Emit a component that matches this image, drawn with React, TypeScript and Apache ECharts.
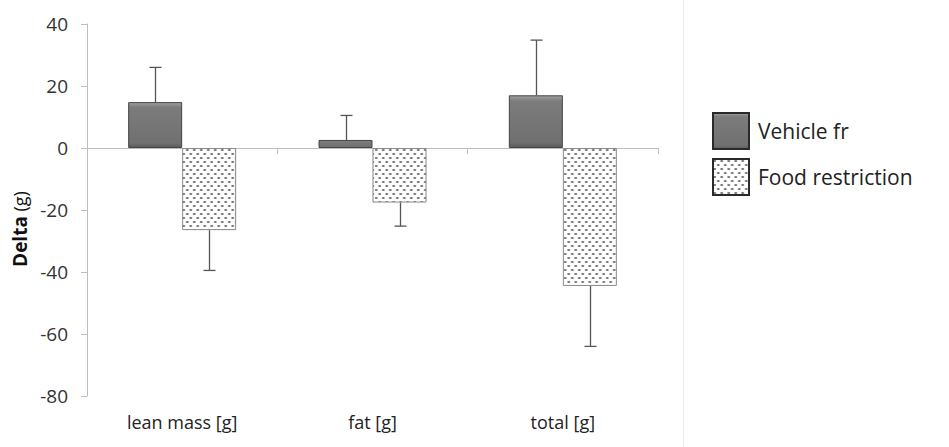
import React, { useEffect, useRef } from "react";
import * as echarts from "echarts";

const categories = ["lean mass [g]", "fat [g]", "total [g]"];
const vehicleValues = [14.8, 2.6, 17];
const vehicleErrors = [11.2, 7.9, 17.8];
const foodValues = [-26.5, -17.6, -44.5];
const foodErrors = [13, 7.6, 19.5];
const seriesNames = ["Vehicle fr", "Food restriction"];
const yTicks = { min: -80, max: 40, interval: 20 };

const FONT = "'Open Sans', 'Liberation Sans', sans-serif";

function makePattern(): HTMLCanvasElement {
  const c = document.createElement("canvas");
  c.width = 7;
  c.height = 8;
  const ctx = c.getContext("2d")!;
  ctx.fillStyle = "#ffffff";
  ctx.fillRect(0, 0, 7, 8);
  ctx.fillStyle = "#767676";
  const dots = [
    [1.75, 2],
    [5.25, 6],
  ];
  dots.forEach(([x, y]) => {
    ctx.beginPath();
    ctx.ellipse(x, y, 1.6, 0.9, 0, 0, Math.PI * 2);
    ctx.fill();
  });
  return c;
}

export default function App() {
  const ref = useRef<HTMLDivElement>(null);
  useEffect(() => {
    document.body.style.margin = "0";
    if (!ref.current) return;
    const chart = echarts.init(ref.current, null, { renderer: "svg" });
    const pattern = makePattern();
    const BAR_W = 54;
    const errData: number[][] = [];
    categories.forEach((_, i) => {
      errData.push([i, vehicleValues[i], vehicleErrors[i], 0]);
      errData.push([i, foodValues[i], foodErrors[i], 1]);
    });
    chart.setOption({
      animation: false,
      backgroundColor: "#ffffff",
      grid: { left: 87, top: 24, right: 291, bottom: 51, containLabel: false },
      legend: {
        orient: "vertical",
        left: 707,
        top: 107,
        itemWidth: 36,
        itemHeight: 36,
        itemGap: 8,
        icon: "rect",
        textStyle: { fontFamily: FONT, fontSize: 21, color: "#222", padding: [0, 0, 0, 4] },
        data: [
          { name: seriesNames[0], itemStyle: { borderColor: "#2a2a2a", borderWidth: 2 } },
          { name: seriesNames[1], itemStyle: { borderColor: "#2a2a2a", borderWidth: 2 } },
        ],
      },
      xAxis: [
        {
          type: "category",
          data: categories,
          position: "bottom",
          axisLine: { show: true, onZero: true, lineStyle: { color: "#bdbdbd", width: 1 } },
          axisTick: { show: true, length: 6, lineStyle: { color: "#bdbdbd" } },
          axisLabel: { show: false },
        },
        {
          type: "category",
          data: categories,
          position: "bottom",
          axisLine: { show: false, onZero: false },
          axisTick: { show: false },
          axisLabel: { show: true, fontFamily: FONT, fontSize: 18, color: "#222", margin: 17 },
        },
      ],
      yAxis: {
        type: "value",
        min: yTicks.min,
        max: yTicks.max,
        interval: yTicks.interval,
        axisLine: { show: true, lineStyle: { color: "#bdbdbd" } },
        axisTick: { show: true, length: 6, lineStyle: { color: "#bdbdbd" } },
        splitLine: { show: false },
        axisLabel: { fontFamily: FONT, fontSize: 19, color: "#333", margin: 19 },
      },
      graphic: [
        {
          type: "line",
          shape: { x1: 683.5, y1: 0, x2: 683.5, y2: 447 },
          style: { stroke: "#ececec", lineWidth: 1 },
        },
        {
          type: "text",
          x: 20,
          y: 229,
          rotation: Math.PI / 2,
          style: {
            text: "{b|Delta} (g)",
            fontFamily: FONT,
            fontSize: 18,
            fill: "#111",
            align: "center",
            verticalAlign: "middle",
            rich: { b: { fontWeight: "bold", fontSize: 19, fontFamily: FONT, fill: "#111" } },
          },
        },
      ],
      series: [
        {
          name: seriesNames[0],
          type: "bar",
          data: vehicleValues,
          barWidth: BAR_W,
          barGap: "0%",
          itemStyle: {
            color: new echarts.graphic.LinearGradient(0, 0, 0, 1, [
              { offset: 0, color: "#a0a0a0" },
              { offset: 0.1, color: "#7c7c7c" },
              { offset: 0.9, color: "#707070" },
              { offset: 1, color: "#5a5a5a" },
            ]),
            borderColor: "#444",
            borderWidth: 1,
          },
        },
        {
          name: seriesNames[1],
          type: "bar",
          data: foodValues,
          barWidth: BAR_W,
          barGap: "0%",
          itemStyle: {
            color: { image: pattern, repeat: "repeat" },
            borderColor: "#8a8a8a",
            borderWidth: 1,
          },
        },
        {
          type: "custom",
          name: "errors",
          data: errData,
          z: 5,
          renderItem: (params: any, api: any) => {
            const i = api.value(0);
            const v = api.value(1);
            const e = api.value(2);
            const s = api.value(3);
            const end = v >= 0 ? v + e : v - e;
            const p0 = api.coord([i, v]);
            const p1 = api.coord([i, end]);
            const x = Math.round(p0[0] + (s === 0 ? -BAR_W / 2 : BAR_W / 2)) + 0.5;
            const style = { stroke: "#555", lineWidth: 1.3 };
            return {
              type: "group",
              children: [
                { type: "line", shape: { x1: x, y1: p0[1], x2: x, y2: p1[1] }, style },
                { type: "line", shape: { x1: x - 6, y1: p1[1], x2: x + 6, y2: p1[1] }, style },
              ],
            };
          },
        },
      ],
    });
    return () => chart.dispose();
  }, []);
  return <div ref={ref} style={{ width: 949, height: 447 }} />;
}
